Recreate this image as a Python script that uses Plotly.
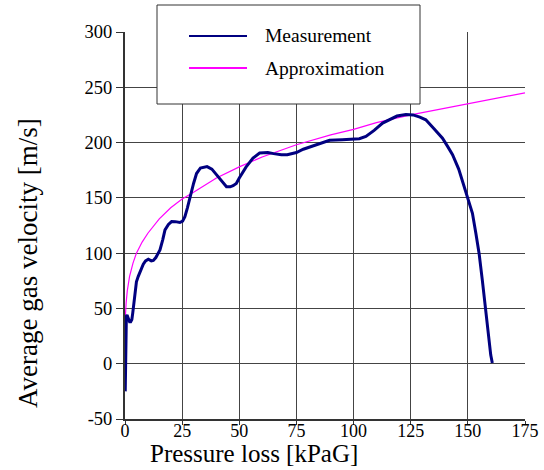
import plotly.graph_objects as go

# ---- data ----
meas_x = [0.3, 0.1, 0.3, 0.1, 0.3, 0.2, 0.4, 0.3, 0.5, 0.6, 0.9, 1.5, 2.0, 2.5, 3.0, 3.4, 4.0, 4.4,
          5.0, 5.8, 7.0, 8.0, 9.0, 10.2, 11.5, 12.4, 13.5, 15.3, 16.5, 17.5, 19.0, 20.4, 22.0, 24.0,
          25.2, 26.2, 27.3, 28.4, 30.0, 31.3, 33.0, 35.9, 38.0, 40.0, 42.0, 44.4, 46.0, 47.3, 48.7,
          50.0, 53.0, 56.0, 58.9, 62.5, 65.0, 68.4, 71.0, 75.0, 78.0, 82.2, 86.0, 89.5, 95.0, 99.7,
          102.5, 105.4, 109.0, 112.7, 116.0, 119.0, 122.9, 126.0, 129.0, 131.6, 135.0, 138.9, 141.0,
          143.3, 146.0, 149.0, 150.5, 152.0, 153.5, 154.9, 156.3, 157.8, 158.6, 159.3, 160.0, 160.7]
meas_y = [18, -10, 15, -25, 10, -20, 20, -5, 30, 43, 44, 40, 38, 38, 40, 46, 58, 67,
          74, 79, 86, 90, 93, 94.5, 93, 93.4, 96, 103, 112, 121, 126, 128.6, 128.5, 127.7,
          129, 133, 141, 151, 163, 172, 177, 178.3, 176, 171, 166, 160, 160, 161, 163,
          168, 178, 186, 190.5, 191, 190, 189, 189, 191, 194, 197, 200, 202, 202.5, 203,
          203.5, 205.5, 211, 217.6, 221, 224, 225.4, 225, 223, 220.6, 213, 204, 197,
          189, 176, 157, 147, 136, 118, 100, 76, 49, 33, 18.7, 8, 0.6]

approx_x = [0.01, 0.05, 0.2, 0.5, 1, 2, 3.5, 5, 7.5, 10, 15, 20, 25, 30, 40, 50, 60, 75,
            90, 100, 110, 125, 140, 150, 160, 175]
approx_y = [20, 31, 44, 55, 66, 79, 91, 100, 110, 118, 131, 141, 149, 155, 168, 178, 187, 198,
            207, 212, 218, 225, 231, 235, 239, 245]

x_ticks = [0, 25, 50, 75, 100, 125, 150, 175]
y_ticks = [-50, 0, 50, 100, 150, 200, 250, 300]
y_tick_text = ["-50", "0", "50", "100", "150", "200", "250", "300"]

series_names = ["Measurement", "Approximation"]
x_title = "Pressure loss [kPaG]"
y_title = "Average gas velocity [m/s]"

# ---- layout geometry (pixels) ----
W, H = 544, 470
L, R, T, B = 125, 525, 32, 419
FONT = "Liberation Serif"


def px(xp):
    return (xp - L) / (R - L)


def py(yp):
    return (B - yp) / (B - T)


fig = go.Figure()
fig.add_trace(go.Scatter(x=approx_x, y=approx_y, mode="lines", name=series_names[1],
                         line=dict(color="#FF00FF", width=1.2), showlegend=False))
fig.add_trace(go.Scatter(x=meas_x, y=meas_y, mode="lines", name=series_names[0],
                         line=dict(color="#000080", width=3), showlegend=False))

fig.update_layout(
    width=W, height=H,
    margin=dict(l=L, r=W - R, t=T, b=H - B, pad=0, autoexpand=False),
    paper_bgcolor="white", plot_bgcolor="white",
    font=dict(family=FONT, size=18, color="black"),
    xaxis=dict(range=[0, 175], tickvals=x_ticks, ticktext=[str(v) for v in x_ticks],
               showgrid=True, gridcolor="#444444", gridwidth=1,
               showline=True, linecolor="#333333", linewidth=2,
               ticks="outside", ticklen=4, tickcolor="#333333",
               zeroline=False, automargin=False, ticklabelstandoff=-10,
               tickfont=dict(size=18, family=FONT, color="black")),
    yaxis=dict(range=[-50, 300], tickvals=y_ticks, ticktext=y_tick_text,
               showgrid=True, gridcolor="#444444", gridwidth=1,
               showline=True, linecolor="#333333", linewidth=2,
               ticks="outside", ticklen=7, tickcolor="#333333",
               zeroline=False, automargin=False,
               tickfont=dict(size=18.5, family=FONT, color="black")),
)

# axis titles
fig.add_annotation(text=x_title, xref="paper", yref="paper", x=px(254), y=py(453),
                   xanchor="center", yanchor="middle", showarrow=False,
                   font=dict(size=25, family=FONT, color="black"))
fig.add_annotation(text=y_title, xref="paper", yref="paper", x=px(28), y=py(263),
                   xanchor="center", yanchor="middle", showarrow=False, textangle=-90,
                   font=dict(size=27, family=FONT, color="black"))

# legend box
fig.add_shape(type="rect", xref="paper", yref="paper", x0=px(157), x1=px(420), y0=py(104), y1=py(5),
              fillcolor="white", line=dict(color="#333333", width=1), layer="above")
legend_colors = ["#000080", "#FF00FF"]
legend_widths = [2, 2]
legend_ys = [36, 68]
for name, col, lw, ly in zip(series_names, legend_colors, legend_widths, legend_ys):
    fig.add_shape(type="line", xref="paper", yref="paper", x0=px(189), x1=px(247), y0=py(ly), y1=py(ly),
                  line=dict(color=col, width=lw), layer="above")
    fig.add_annotation(text=name, xref="paper", yref="paper", x=px(263), y=py(ly),
                       xanchor="left", yanchor="middle", showarrow=False,
                       font=dict(size=19.5, family=FONT, color="black"))

fig.write_html("out.html", config={"displayModeBar": False},
               post_script="document.body.style.margin='0';")
